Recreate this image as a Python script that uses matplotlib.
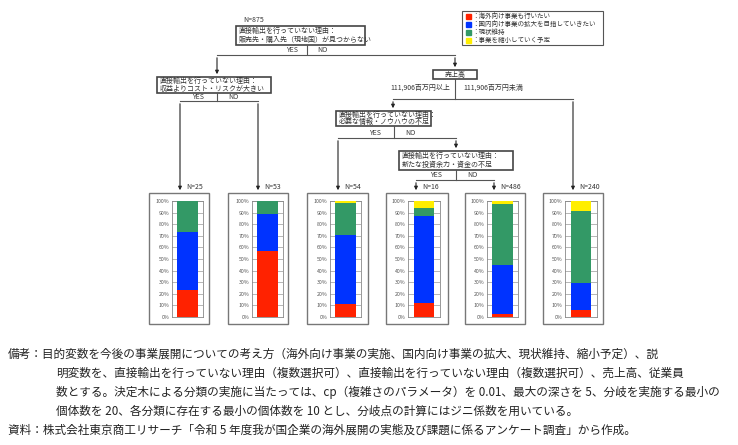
import numpy as np
import matplotlib.pyplot as plt
from matplotlib.patches import Rectangle

plt.rcParams["font.family"] = ["Noto Sans CJK JP", "DejaVu Sans"]

# === Data ===
node_n = ["N=25", "N=53", "N=54", "N=16", "N=486", "N=240"]
overseas = [23, 57, 11, 12.5, 3, 6]
domestic = [50, 32, 60, 75, 42, 23]
keep = [27, 11, 27, 6.25, 52, 62]
shrink = [0, 0, 2, 6.25, 3, 9]
legend_labels = ["：海外向け事業も行いたい", "：国内向け事業の拡大を目指していきたい",
                 "：現状維持", "：事業を縮小していく予定"]
colors = ["#ff2200", "#0033ff", "#339966", "#ffee00"]
ticks = np.arange(0, 101, 10)

W, H = 738, 445
fig = plt.figure(figsize=(W / 100, H / 100), dpi=100)
ax = fig.add_axes([0, 0, 1, 1])
ax.set_xlim(0, W)
ax.set_ylim(H, 0)
ax.axis("off")

lc = "#555555"
fs = 5.0

def line(xs, ys):
    ax.plot(xs, ys, color=lc, lw=0.8)

def arrow(x, y0, y1):
    ax.annotate("", xy=(x, y1), xytext=(x, y0),
                arrowprops=dict(arrowstyle="-|>", color="#222222", lw=0.8, mutation_scale=5))

def node(x0, y0, x1, y1, lines_, lw=1.2):
    ax.add_patch(Rectangle((x0, y0), x1 - x0, y1 - y0, fill=False, ec="#444444", lw=lw))
    n = len(lines_)
    for i, t in enumerate(lines_):
        yy = y0 + (y1 - y0) * (i + 0.5) / n
        if n == 1:
            ax.text((x0 + x1) / 2, yy, t, ha="center", va="center", fontsize=fs, color="#333333")
        else:
            ax.text(x0 + 3, yy, t, ha="left", va="center", fontsize=fs, color="#333333")

# tree
ax.text(243, 20, "N=875", fontsize=fs, color="#333333", va="center")
node(236, 26, 365, 45, ["直接輸出を行っていない理由：", "販売先・購入先（現地国）が見つからない"])
line([307, 307], [45, 54])
ax.text(292, 50, "YES", fontsize=fs, ha="center", va="center", color="#333333")
ax.text(322, 50, "NO", fontsize=fs, ha="center", va="center", color="#333333")
line([217, 455], [55, 55])
arrow(217, 55, 77)
arrow(455, 55, 70)

node(157, 77, 271, 93, ["直接輸出を行っていない理由：", "収益よりコスト・リスクが大きい"])
line([217, 217], [93, 101])
ax.text(198, 97, "YES", fontsize=fs, ha="center", va="center", color="#333333")
ax.text(233, 97, "NO", fontsize=fs, ha="center", va="center", color="#333333")
line([180, 258], [101, 101])

node(433, 70, 477, 79, ["売上高"])
line([455, 455], [79, 99])
ax.text(450, 88, "111,906百万円以上", fontsize=fs, ha="right", va="center", color="#333333")
ax.text(463, 88, "111,906百万円未満", fontsize=fs, ha="left", va="center", color="#333333")
line([393, 573], [99, 99])
arrow(393, 99, 111)

node(336, 111, 431, 126, ["直接輸出を行っていない理由：", "必要な情報・ノウハウの不足"])
line([394, 394], [126, 138])
ax.text(375, 133, "YES", fontsize=fs, ha="center", va="center", color="#333333")
ax.text(410, 133, "NO", fontsize=fs, ha="center", va="center", color="#333333")
line([338, 456], [138, 138])
arrow(456, 138, 151)

node(399, 151, 513, 170, ["直接輸出を行っていない理由：", "新たな投資余力・資金の不足"])
line([456, 456], [170, 180])
ax.text(436, 175, "YES", fontsize=fs, ha="center", va="center", color="#333333")
ax.text(472, 175, "NO", fontsize=fs, ha="center", va="center", color="#333333")
line([416, 494], [180, 180])

# legend
ax.add_patch(Rectangle((462, 11), 141, 34, fill=False, ec="#555555", lw=0.8))
for i, (lab, c) in enumerate(zip(legend_labels, colors)):
    yy = 16 + i * 8
    ax.add_patch(Rectangle((466, yy - 2.5), 5, 5, color=c))
    ax.text(472, yy, lab, fontsize=fs - 0.3, va="center", color="#333333")

# bar panels
box_x = [(149, 209), (228, 288), (307, 368), (386, 448), (465, 525), (543, 603)]
axis_x = [(172, 203), (252, 283), (330, 361), (408, 440), (487, 518), (565, 597)]
arrow_x = [180, 258, 338, 416, 494, 573]
branch_top = [101, 101, 138, 180, 180, 99]
by0, by1 = 193, 324
ay0, ay1 = 201, 317
for i in range(6):
    x0, x1 = box_x[i]
    ax.add_patch(Rectangle((x0, by0), x1 - x0, by1 - by0, fill=False, ec="#777777", lw=1.0))
    arrow(arrow_x[i], branch_top[i], by0)
    ax.text(arrow_x[i] + 6, by0 - 6, node_n[i], fontsize=fs, color="#333333", va="center")
    a0, a1 = axis_x[i]
    bax = fig.add_axes([a0 / W, 1 - ay1 / H, (a1 - a0) / W, (ay1 - ay0) / H])
    bottom = 0
    for vals, c in zip([overseas, domestic, keep, shrink], colors):
        bax.bar(0, vals[i], bottom=bottom, color=c, width=0.65, zorder=3)
        bottom += vals[i]
    bax.set_xlim(-0.5, 0.5)
    bax.set_ylim(0, 100)
    bax.set_yticks(ticks)
    bax.set_yticklabels([f"{t}%" for t in ticks], fontsize=3.8, color="#555555")
    bax.tick_params(length=0, pad=2)
    bax.set_xticks([])
    bax.grid(axis="y", color="#aaaaaa", lw=0.6, zorder=0)
    for s in bax.spines.values():
        s.set_color("#888888")
        s.set_linewidth(0.6)

# notes
nfs = 8.4
notes = [
    (8, 354, "備考：目的変数を今後の事業展開についての考え方（海外向け事業の実施、国内向け事業の拡大、現状維持、縮小予定）、説"),
    (56, 373, "明変数を、直接輸出を行っていない理由（複数選択可）、直接輸出を行っていない理由（複数選択可）、売上高、従業員"),
    (56, 392, "数とする。決定木による分類の実施に当たっては、cp（複雑さのパラメータ）を 0.01、最大の深さを 5、分岐を実施する最小の"),
    (56, 411, "個体数を 20、各分類に存在する最小の個体数を 10 とし、分岐点の計算にはジニ係数を用いている。"),
    (8, 430, "資料：株式会社東京商工リサーチ「令和 5 年度我が国企業の海外展開の実態及び課題に係るアンケート調査」から作成。"),
]
for x, y, t in notes:
    ax.text(x, y, t, fontsize=nfs, va="center", color="#222222")

fig.savefig("out.png", dpi=100)
